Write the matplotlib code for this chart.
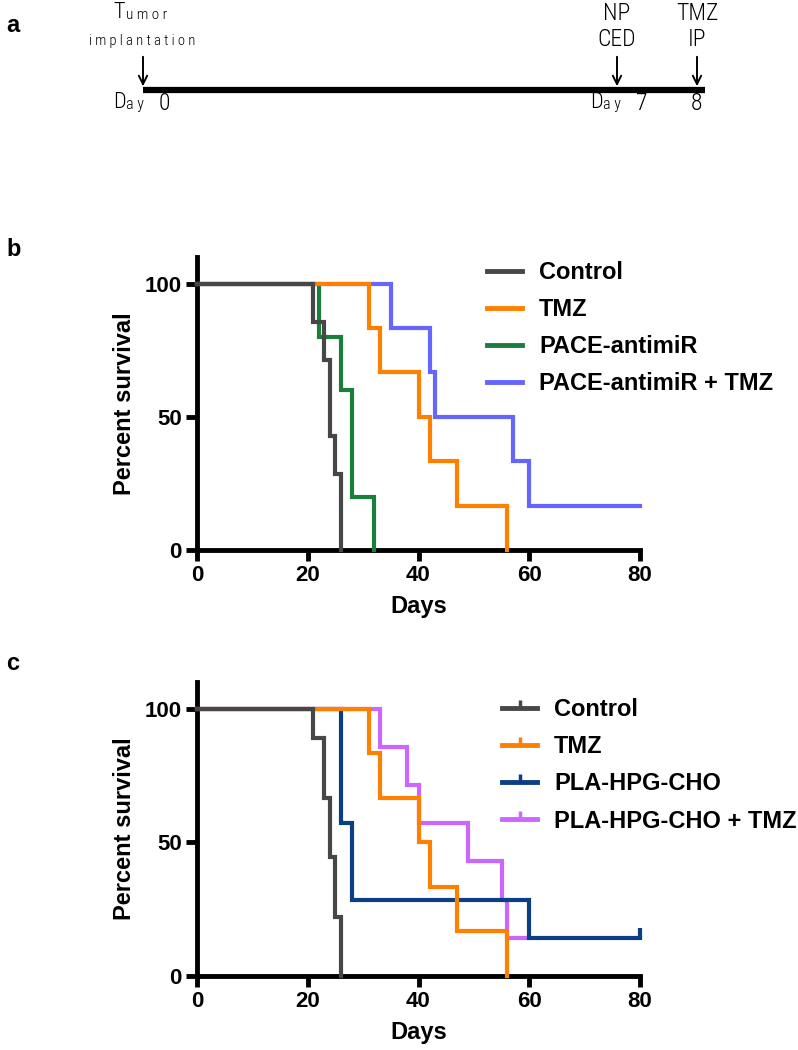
import matplotlib
matplotlib.use("Agg")
import matplotlib.pyplot as plt
from matplotlib.lines import Line2D

plt.rcParams['font.family'] = ['Liberation Sans', 'DejaVu Sans']
plt.rcParams['font.weight'] = 'bold'

# panel a : treatment timeline (schematic, not to scale)
timeline_days = ["0", "7", "8"]
timeline_top = ["Tumor", "NP", "TMZ"]
timeline_mid = ["implantation", "CED", "IP"]

# panel b : survival curves (days, percent survival)
b_labels = ["Control", "TMZ", "PACE-antimiR", "PACE-antimiR + TMZ"]
b_colors = ["#474747", "#ff8000", "#1a7f3c", "#6666ff"]
b_days = [
    [0, 21, 23, 24, 25, 26],
    [0, 31, 33, 40, 42, 47, 56],
    [0, 22, 26, 28, 32],
    [0, 35, 42, 43, 57, 60, 80],
]
b_surv = [
    [100, 85.7, 71.4, 42.9, 28.6, 0],
    [100, 83.3, 66.7, 50, 33.3, 16.7, 0],
    [100, 80, 60, 20, 0],
    [100, 83.3, 66.7, 50, 33.3, 16.7, 16.7],
]

# panel c
c_labels = ["Control", "TMZ", "PLA-HPG-CHO", "PLA-HPG-CHO + TMZ"]
c_colors = ["#474747", "#ff8000", "#0b3f85", "#cc66ff"]
c_days = [
    [0, 21, 23, 24, 25, 26],
    [0, 31, 33, 40, 42, 47, 56],
    [0, 26, 28, 60, 80],
    [0, 33, 38, 40, 49, 55, 56, 60],
]
c_surv = [
    [100, 88.9, 66.7, 44.4, 22.2, 0],
    [100, 83.3, 66.7, 50, 33.3, 16.7, 0],
    [100, 57.1, 28.6, 14.3, 14.3],
    [100, 85.7, 71.4, 57.1, 42.9, 28.6, 14.3, 14.3],
]
c_censor = {2: (80, 14.3)}

fig = plt.figure(figsize=(7.98, 10.5), dpi=100)

# ---------- panel a
axa = fig.add_axes([0, 1 - 130 / 1050, 1, 130 / 1050])
axa.set_xlim(0, 798)
axa.set_ylim(130, 0)
axa.axis('off')
thin = dict(family=['Liberation Sans Narrow', 'Roboto Condensed', 'Roboto', 'DejaVu Sans'],
            fontweight='light', color='black')
xpos = [143, 617, 697]
axa.plot([xpos[0], 705], [90, 90], color='black', lw=4.5, solid_capstyle='butt')
for i in range(3):
    axa.annotate('', xy=(xpos[i], 89), xytext=(xpos[i], 54),
                 arrowprops=dict(arrowstyle='->', lw=1.4, color='black',
                                 mutation_scale=15))
# top words
axa.text(113, 13, timeline_top[0][0], fontsize=16, va='center', **thin)
axa.text(126, 15, ' '.join(timeline_top[0][1:]), fontsize=11, va='center', **thin)
axa.text(xpos[0] - 1, 41, ' '.join(timeline_mid[0]), fontsize=10.5,
         ha='center', va='center', **thin)
for i in (1, 2):
    axa.text(xpos[i], 13, timeline_top[i], fontsize=17, ha='center', va='center', **thin)
    axa.text(xpos[i], 39, timeline_mid[i], fontsize=17, ha='center', va='center', **thin)
for i in (0, 1):
    x0 = [113, 590][i]
    axa.text(x0, 103, 'D', fontsize=16, va='center', **thin)
    axa.text(x0 + 13, 105, 'a y', fontsize=11.5, va='center', **thin)
    axa.text(x0 + 46, 103, timeline_days[i], fontsize=17, va='center', **thin)
axa.text(xpos[2], 103, timeline_days[2], fontsize=17, ha='center', va='center', **thin)
fig.text(0.008, 1 - 25 / 1050, 'a', fontsize=17, fontweight='bold', va='center')


def km_panel(ax, days, surv, colors, labels, censor, ticks_in_legend):
    n = len(days)
    for i in reversed(range(n)):
        ax.step(days[i], surv[i], where='post', color=colors[i], lw=3,
                zorder=10 + n - i, clip_on=False, solid_joinstyle='miter')
    for i, (cx, cy) in censor.items():
        ax.plot([cx], [cy], marker=2, ms=7, mew=3, color=colors[i],
                clip_on=False, zorder=20)
    ax.set_xlim(0, 80)
    ax.set_ylim(0, 110)
    ax.set_xticks([0, 20, 40, 60, 80])
    ax.set_yticks([0, 50, 100])
    for s in ('top', 'right'):
        ax.spines[s].set_visible(False)
    for s in ('left', 'bottom'):
        ax.spines[s].set_linewidth(3.5)
    ax.tick_params(length=8, width=3.5, labelsize=16, pad=3)
    for lab in ax.get_xticklabels() + ax.get_yticklabels():
        lab.set_fontweight('bold')
    ax.set_ylabel('Percent survival', fontsize=17, fontweight='bold', labelpad=6)
    ax.set_xlabel('Days', fontsize=17, fontweight='bold', labelpad=6)
    if ticks_in_legend:
        handles = [Line2D([0], [0], color=c, lw=3.5, marker=2, ms=6, mew=2.5)
                   for c in colors]
    else:
        handles = [Line2D([0], [0], color=c, lw=3.5) for c in colors]
    return handles


axb = fig.add_axes([197 / 798, 1 - 550 / 1050, 443 / 798, 293 / 1050])
hb = km_panel(axb, b_days, b_surv, b_colors, b_labels, {}, False)
fig.legend(hb, b_labels, loc='upper left', bbox_to_anchor=(487 / 798, 1 - 261 / 1050),
           frameon=False, prop=dict(weight='bold', size=17),
           handlelength=1.5, handletextpad=0.7, labelspacing=0.6, borderpad=0,
           borderaxespad=0)
fig.text(0.008, 1 - 250 / 1050, 'b', fontsize=17, fontweight='bold', va='center')

axc = fig.add_axes([197 / 798, 1 - 976 / 1050, 443 / 798, 294 / 1050])
hc = km_panel(axc, c_days, c_surv, c_colors, c_labels, c_censor, True)
fig.legend(hc, c_labels, loc='upper left', bbox_to_anchor=(502 / 798, 1 - 698 / 1050),
           frameon=False, prop=dict(weight='bold', size=17),
           handlelength=1.5, handletextpad=0.7, labelspacing=0.6, borderpad=0,
           borderaxespad=0)
fig.text(0.008, 1 - 663 / 1050, 'c', fontsize=17, fontweight='bold', va='center')

fig.savefig('out.png', dpi=100)
